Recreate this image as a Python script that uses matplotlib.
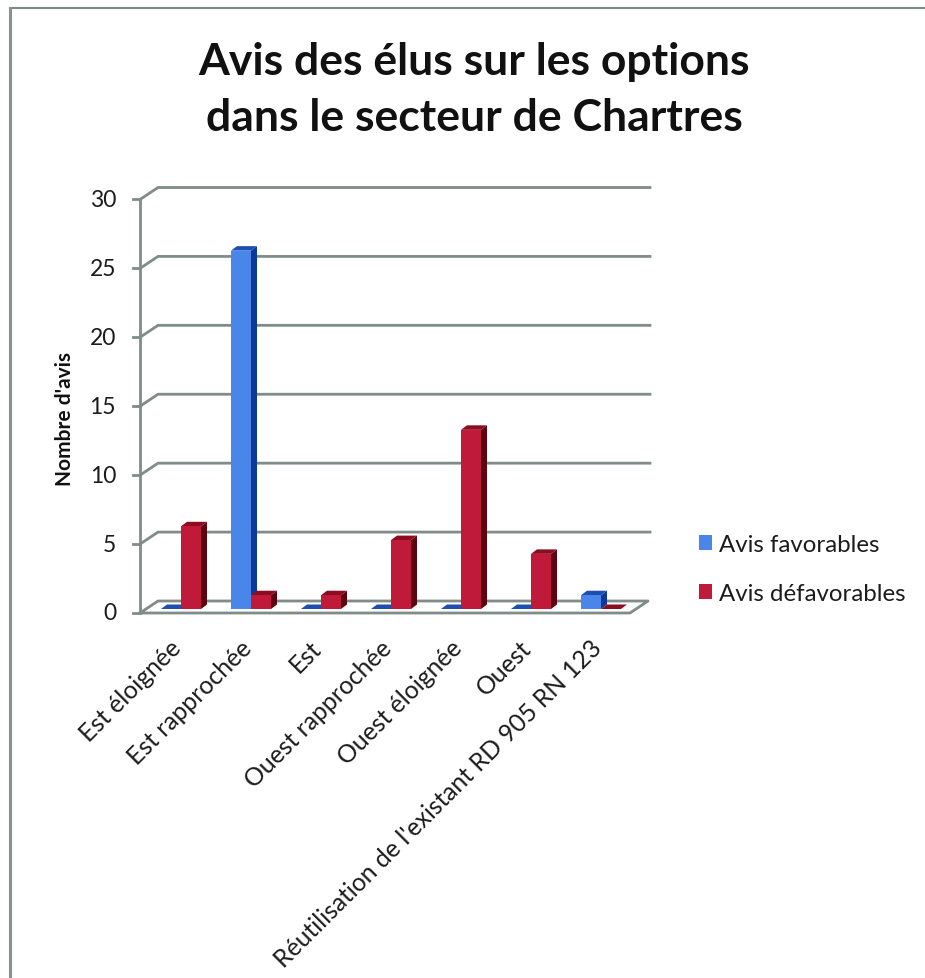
import matplotlib
matplotlib.use("Agg")
import matplotlib.pyplot as plt
from matplotlib.lines import Line2D
from matplotlib.patches import Polygon, Rectangle, Patch

categories = ["Est éloignée", "Est rapprochée", "Est", "Ouest rapprochée",
              "Ouest éloignée", "Ouest", "Réutilisation de l'existant RD 905 RN 123"]
favorables = [0, 26, 0, 0, 0, 0, 1]
defavorables = [6, 1, 1, 5, 13, 4, 0]
yticks = [0, 5, 10, 15, 20, 25, 30]
series_names = ["Avis favorables", "Avis défavorables"]
title = "Avis des élus sur les options\ndans le secteur de Chartres"
ylabel = "Nombre d'avis"

W, H = 925, 979
FONT = "Lato"
plt.rcParams["font.family"] = [FONT, "DejaVu Sans"]
GRID = "#7f8c88"
TXT = "#1c1c1c"
BLUE = ("#4a86ea", "#0c3a96", "#1d4fb0")
RED = ("#c01a3a", "#5c0510", "#8c0d20")

fig = plt.figure(figsize=(W / 100, H / 100), dpi=100, facecolor="white")
# the frame of the source picture: only its top and left edges are visible
fig.add_artist(Line2D([9.5 / W, 1], [1 - 9 / H, 1 - 9 / H], transform=fig.transFigure,
                      color="#7c8a86", lw=1.5))
fig.add_artist(Line2D([9.5 / W, 9.5 / W], [0, 1 - 9 / H], transform=fig.transFigure,
                      color="#87918e", lw=2.2))

L, R, T, B = 140, 630, 200.5, 614
ax = fig.add_axes([L / W, 1 - B / H, (R - L) / W, (B - T) / H])
ax.set_xlim(0, 7)
ax.set_ylim(0, 30)
ax.axis("off")
px = 7 / (R - L)
py = 30 / (B - T)

DX, DY = 18 * px, 12 * py
for v in yticks:
    if v == 0:
        continue
    ax.plot([0, DX, 7 + 20 * px], [v, v + DY, v + DY], color=GRID, lw=2, clip_on=False,
            solid_joinstyle="round", zorder=1)
ax.plot([0, DX, 7 + DX, 7, 0], [0, DY, DY, 0, 0], color=GRID, lw=2, clip_on=False, zorder=1)
ax.plot([0, 0], [0, 30], color=GRID, lw=2, clip_on=False, zorder=1)
for v in yticks:
    ax.plot([-7 * px, 0], [v, v], color=GRID, lw=2, clip_on=False, zorder=1)
    ax.text(-24 * px, v, str(v), ha="right", va="center", fontsize=16.5, color=TXT)

BW = 20 * px
bx, by = 6 * px, 4.5 * py
base = 4 * py
shift = 6 * px


def bar3d(x, v, cols, z):
    y0, y1 = base, base + v
    ax.add_patch(Polygon([(x + BW, y0), (x + BW + bx, y0 + by), (x + BW + bx, y1 + by), (x + BW, y1)],
                         fc=cols[1], ec="none", zorder=z, clip_on=False))
    ax.add_patch(Polygon([(x, y1), (x + bx, y1 + by), (x + BW + bx, y1 + by), (x + BW, y1)],
                         fc=cols[2], ec="none", zorder=z, clip_on=False))
    if v > 0:
        ax.add_patch(Rectangle((x, y0), BW, v, fc=cols[0], ec="none", zorder=z, clip_on=False))


for i, (f, d) in enumerate(zip(favorables, defavorables)):
    c = i + 0.5 + shift
    bar3d(c - BW, f, BLUE, 3 + 2 * i)
    bar3d(c, d, RED, 4 + 2 * i)
    ax.annotate(categories[i], xy=(i + 0.5, 0), xytext=(2, -22), textcoords="offset points",
                rotation=45, rotation_mode="anchor", ha="right", va="center", fontsize=17.8, color=TXT)

fig.text(474 / W, 1 - 90 / H, title, ha="center", va="center", fontsize=32, fontweight="bold",
         color="#111111", linespacing=1.5)
fig.text(65 / W, 1 - 419 / H, ylabel, rotation=90, ha="center", va="center", fontsize=15,
         fontweight="bold", color="#111111")

handles = [Patch(fc=BLUE[0]), Patch(fc=RED[0])]
fig.legend(handles, series_names, loc="center left", bbox_to_anchor=(699 / W, 1 - 570 / H),
           frameon=False, fontsize=17.3, handlelength=0.55, handleheight=0.6, handletextpad=0.3,
           labelspacing=1.17, labelcolor=TXT, borderpad=0, borderaxespad=0)

fig.savefig("out.png", dpi=100)
